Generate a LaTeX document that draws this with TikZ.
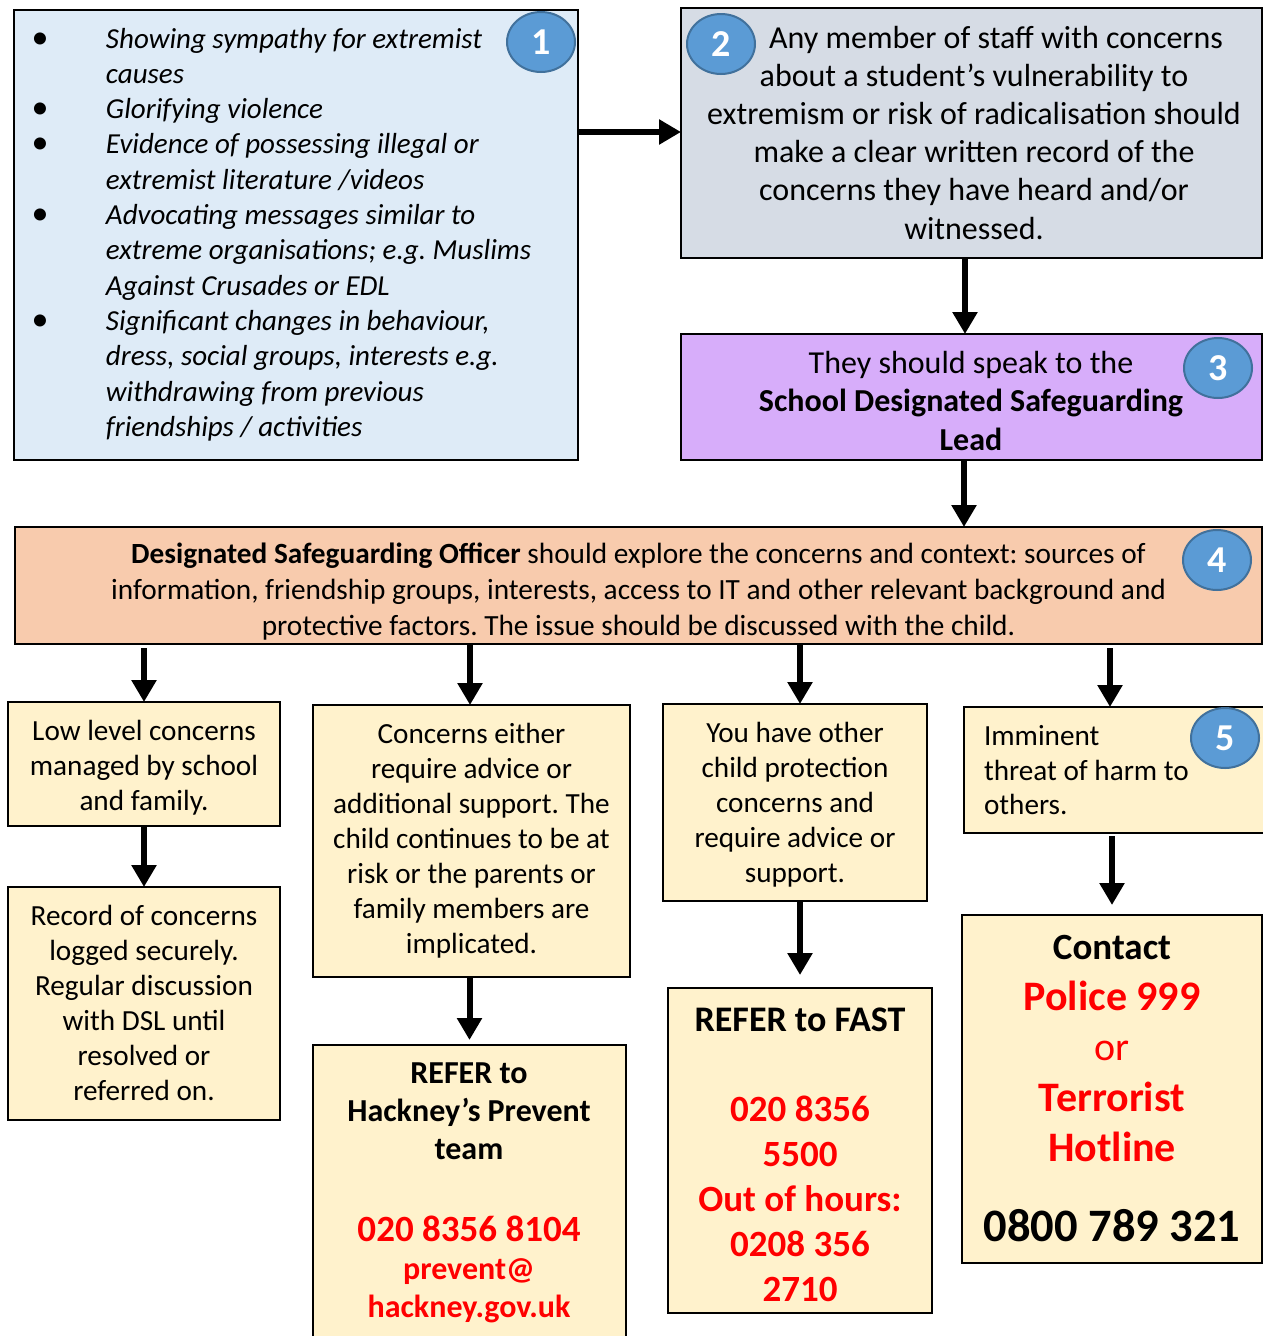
\documentclass[tikz,border=0pt]{standalone}
\usepackage{fontspec}
\setmainfont{Carlito}
\usetikzlibrary{arrows.meta,shapes.geometric}
\definecolor{bluebox}{HTML}{DEEBF7}
\definecolor{greybox}{HTML}{D6DCE5}
\definecolor{purplebox}{HTML}{D7ADFA}
\definecolor{peachbox}{HTML}{F8CBAD}
\definecolor{yellowbox}{HTML}{FFF2CC}
\definecolor{badgefill}{HTML}{5B9BD5}
\definecolor{badgeline}{HTML}{41719C}
\definecolor{hotred}{HTML}{FF0000}
\frenchspacing
\begin{document}
\begin{tikzpicture}[x=1pt,y=-1pt,
  box/.style={draw=black, line width=2pt, inner sep=0pt, outer sep=0pt},
  badge/.style={ellipse, draw=badgeline, line width=2pt, fill=badgefill,
    minimum width=68pt, minimum height=60pt, inner sep=0pt, text=white,
    font=\fontsize{38}{40}\selectfont\bfseries},
  arr/.style={line width=6pt, -{Triangle[width=24pt,length=22pt]}},
  txt/.style={inner sep=0pt, outer sep=0pt, anchor=base},
  rowfont/.style={font=\fontsize{29.2}{35}\selectfont},
]
\useasboundingbox (0,0) rectangle (1263,1336);
\fill[white] (0,0) rectangle (1263,1336);

% ---- boxes ----
\node[box, fill=bluebox,   minimum width=564pt,  minimum height=450pt] (box1) at (296,235) {};
\node[box, fill=greybox,   minimum width=581pt,  minimum height=250pt] (box2) at (971.5,133) {};
\node[box, fill=purplebox, minimum width=581pt,  minimum height=126pt] (box3) at (971.5,397) {};
\node[box, fill=peachbox,  minimum width=1247pt, minimum height=117pt] (box4) at (638.5,585.5) {};
\node[box, fill=yellowbox, minimum width=272pt,  minimum height=124pt] (A) at (144,764) {};
\node[box, fill=yellowbox, minimum width=317pt,  minimum height=272pt] (B) at (471.5,841) {};
\node[box, fill=yellowbox, minimum width=264pt,  minimum height=197pt] (C) at (795,802.5) {};
\node[box, fill=yellowbox, minimum width=300pt,  minimum height=126pt] (D) at (1114,770) {};
\node[box, fill=yellowbox, minimum width=272pt,  minimum height=233pt] (E) at (144,1003.5) {};
\node[box, fill=yellowbox, minimum width=313pt,  minimum height=300pt] (F) at (469.5,1195) {};
\node[box, fill=yellowbox, minimum width=264pt,  minimum height=325pt] (G) at (800,1150.5) {};
\node[box, fill=yellowbox, minimum width=300pt,  minimum height=348pt] (H) at (1112,1089) {};

% ---- texts ----
\node[txt, anchor=base west, font=\fontsize{29}{35.3}\selectfont\itshape] (t1) at (26,48)
 {\begin{tabular}[t]{@{}c@{\hspace{52pt}}l@{}}
  \makebox[28pt]{\upshape\fontsize{34}{35}\selectfont\textbullet} & Showing sympathy for extremist\\
  & causes\\
  \makebox[28pt]{\upshape\fontsize{34}{35}\selectfont\textbullet} & Glorifying violence\\
  \makebox[28pt]{\upshape\fontsize{34}{35}\selectfont\textbullet} & Evidence of possessing illegal or\\
  & extremist literature /videos\\
  \makebox[28pt]{\upshape\fontsize{34}{35}\selectfont\textbullet} & Advocating messages similar to\\
  & extreme organisations; e.g. Muslims\\
  & Against Crusades or EDL\\
  \makebox[28pt]{\upshape\fontsize{34}{35}\selectfont\textbullet} & Significant changes in behaviour,\\
  & dress, social groups, interests e.g.\\
  & withdrawing from previous\\
  & friendships / activities
 \end{tabular}};

\node[txt, font=\fontsize{32}{38.2}\selectfont] (t2) at (974,48)
 {\begin{tabular}[t]{@{}c@{}}
  \hspace*{44pt}Any member of staff with concerns\\
  about a student’s vulnerability to\\
  extremism or risk of radicalisation should\\
  make a clear written record of the\\
  concerns they have heard and/or\\
  witnessed.
 \end{tabular}};

\node[txt, font=\fontsize{32}{38.5}\selectfont] (t3) at (971,373)
 {\begin{tabular}[t]{@{}c@{}}
  They should speak to the\\
  \textbf{School Designated Safeguarding}\\
  \textbf{Lead}
 \end{tabular}};

\node[txt, font=\fontsize{29.3}{36}\selectfont] (t4) at (638.5,563)
 {\begin{tabular}[t]{@{}c@{}}
  \textbf{Designated Safeguarding Officer} should explore the concerns and context: sources of\\
  information, friendship groups, interests, access to IT and other relevant background and\\
  protective factors. The issue should be discussed with the child.
 \end{tabular}};

\node[txt, rowfont] (tA) at (144,740)
 {\begin{tabular}[t]{@{}c@{}}
  Low level concerns\\ managed by school\\ and family.
 \end{tabular}};

\node[txt, rowfont] (tE) at (144,925)
 {\begin{tabular}[t]{@{}c@{}}
  Record of concerns\\ logged securely.\\ Regular discussion\\ with DSL until\\ resolved or\\ referred on.
 \end{tabular}};

\node[txt, rowfont] (tB) at (471.5,743.5)
 {\begin{tabular}[t]{@{}c@{}}
  Concerns either\\ require advice or\\ additional support. The\\ child continues to be at\\
  risk or the parents or\\ family members are\\ implicated.
 \end{tabular}};

\node[txt, rowfont] (tC) at (795,742.5)
 {\begin{tabular}[t]{@{}c@{}}
  You have other\\ child protection\\ concerns and\\ require advice or\\ support.
 \end{tabular}};

\node[txt, anchor=base west, font=\fontsize{29.2}{34.5}\selectfont] (tD) at (984,745.5)
 {\begin{tabular}[t]{@{}l@{}}
  Imminent\\ threat of harm to\\ others.
 \end{tabular}};

\node[txt, font=\fontsize{32}{38}\selectfont\bfseries] (tF) at (469,1083)
 {\begin{tabular}[t]{@{}c@{}}
  REFER to\\ Hackney’s Prevent\\ team\\[44pt]
  \textcolor{hotred}{\fontsize{37}{38}\selectfont 020 8356 8104}\\
  \textcolor{hotred}{prevent@}\\
  \textcolor{hotred}{hackney.gov.uk}
 \end{tabular}};

\node[txt, font=\fontsize{37}{45}\selectfont\bfseries] (tG) at (800,1031.5)
 {\begin{tabular}[t]{@{}c@{}}
  {\fontsize{36}{45}\selectfont REFER to FAST}\\
  \\
  \textcolor{hotred}{020 8356}\\
  \textcolor{hotred}{5500}\\
  \textcolor{hotred}{Out of hours:}\\
  \textcolor{hotred}{0208 356}\\
  \textcolor{hotred}{2710}
 \end{tabular}};

\node[txt, font=\fontsize{42}{50.5}\selectfont] (tH) at (1112,959.5)
 {\begin{tabular}[t]{@{}c@{}}
  {\fontsize{37}{50}\selectfont\bfseries Contact}\\
  \textcolor{hotred}{\bfseries Police 999}\\
  \textcolor{hotred}{\fontsize{40}{50}\selectfont or}\\
  \textcolor{hotred}{\bfseries Terrorist}\\
  \textcolor{hotred}{\bfseries Hotline}\\[29pt]
  {\fontsize{46.5}{50}\selectfont\bfseries 0800 789 321}
 \end{tabular}};

% ---- badges ----
\node[badge] (n1) at (541,42) {1};
\node[badge] (n2) at (721,44) {2};
\node[badge] (n3) at (1218,368) {3};
\node[badge] (n4) at (1217,560) {4};
\node[badge] (n5) at (1225,738) {5};

% ---- connectors ----
\draw[arr] ([yshift=103pt]box1.east) -- ([yshift=103pt]box1.east -| box2.west);
\draw[arr] ([xshift=-6.5pt]box2.south) -- ([xshift=-6.5pt]box3.north);
\draw[arr] ([xshift=-7.5pt]box3.south) -- ([xshift=-7.5pt]box3.south |- box4.north);
\draw[arr] ([yshift=-4pt]box4.south -| A.north) -- (A.north);
\draw[arr] ([yshift=-1pt,xshift=-1.5pt]box4.south -| B.north) -- ([xshift=-1.5pt]B.north);
\draw[arr] ([yshift=-1pt,xshift=5pt]box4.south -| C.north) -- ([xshift=5pt]C.north);
\draw[arr] ([yshift=-4pt,xshift=-4pt]box4.south -| D.north) -- ([xshift=-4pt]D.north);
\draw[arr] (A.south) -- (E.north);
\draw[arr] (F.north |- B.south) -- ([yshift=5pt]F.north);
\draw[arr] (G.north |- C.south) -- ([yshift=13pt]G.north);
\draw[arr] ([yshift=-3pt]D.south -| H.north) -- ([yshift=10pt]H.north);
\end{tikzpicture}
\end{document}
